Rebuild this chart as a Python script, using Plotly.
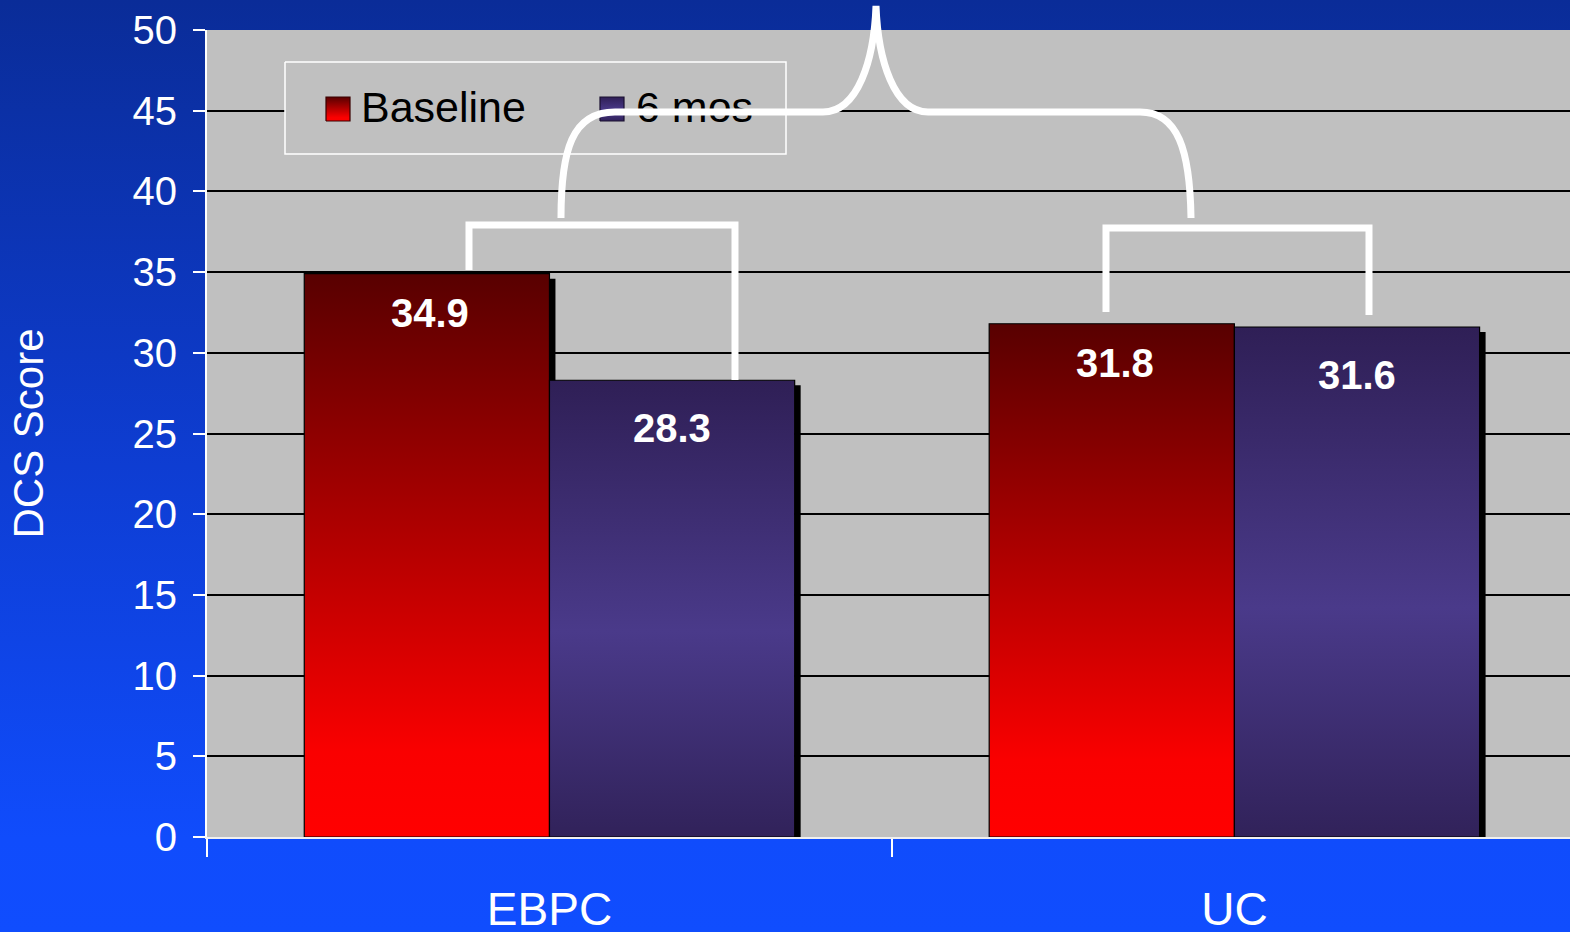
import base64
import plotly.graph_objects as go

# ---- data ----
groups = ["EBPC", "UC"]
series_names = ["Baseline", "6 mos"]
baseline = [34.9, 31.8]
six_mos = [28.3, 31.6]

FONT = "Liberation Sans, Arial, sans-serif"
W, H = 1570, 932
M_L, M_R, M_T, M_B = 207, 0, 30, 95
PW, PH = W - M_L - M_R, H - M_T - M_B

BAR_W = 0.358           # width of one bar in category units
SHADOW_DX = 6 / 685.0   # drop shadow offset, right
SHADOW_DY = 5 / 16.14   # drop shadow offset, down

RED_SCALE = [[0, "#FF0000"], [0.15, "#FA0000"], [1, "#580000"]]
PURPLE_SCALE = [[0, "#31225A"], [0.45, "#4A3A8A"], [1, "#2F1F56"]]


def rect(x0, x1, y0, y1):
    return [x0, x1, x1, x0, x0], [y0, y0, y1, y1, y0]


fig = go.Figure()

# drop shadows behind every bar
sx, sy = [], []
for gi, _ in enumerate(groups):
    for si, vals in enumerate([baseline, six_mos]):
        left = gi - BAR_W if si == 0 else gi
        right = left + BAR_W
        xs, ys = rect(right, right + SHADOW_DX, 0, vals[gi] - SHADOW_DY)
        sx += xs + [None]
        sy += ys + [None]
fig.add_trace(go.Scatter(x=sx, y=sy, fill="toself", fillcolor="black",
                         line=dict(color="black", width=0), mode="lines",
                         hoverinfo="skip", showlegend=False))

# gradient-filled bars
for si, (vals, scale) in enumerate([(baseline, RED_SCALE), (six_mos, PURPLE_SCALE)]):
    for gi, g in enumerate(groups):
        left = gi - BAR_W if si == 0 else gi
        xs, ys = rect(left, left + BAR_W, 0, vals[gi])
        fig.add_trace(go.Scatter(
            x=xs, y=ys, fill="toself", mode="lines",
            line=dict(color="black", width=1.2),
            fillgradient=dict(type="vertical", colorscale=scale,
                              start=0, stop=vals[gi]),
            name=series_names[si], hoverinfo="skip", showlegend=False))

        # value label inside the top of each bar
        fig.add_annotation(
            x=left + BAR_W / 2 + (0.004 if si == 0 else 0), y=vals[gi],
            xref="x", yref="y", text=f"<b>{vals[gi]:.1f}</b>",
            showarrow=False, yanchor="middle",
            yshift=-39 if si == 0 else -48,
            font=dict(family=FONT, size=40, color="white"))

# legend drawn on a pixel-scaled overlay axis
LEG_BOX = (285, 786, 62, 154)
xs, ys = rect(LEG_BOX[0], LEG_BOX[1], LEG_BOX[2], LEG_BOX[3])
fig.add_trace(go.Scatter(x=xs, y=ys, xaxis="x2", yaxis="y2", fill="toself",
                         fillcolor="#C0C0C0", mode="lines",
                         line=dict(color="white", width=1.5),
                         hoverinfo="skip", showlegend=False))
legend_items = [(326, 361, RED_SCALE, "#3A0000"), (600, 636, PURPLE_SCALE, "#1A1030")]
for (sx0, tx0, scale, edge), label in zip(legend_items, series_names):
    xs, ys = rect(sx0, sx0 + 24, 121, 97)
    fig.add_trace(go.Scatter(x=xs, y=ys, xaxis="x2", yaxis="y2", fill="toself",
                             mode="lines", line=dict(color=edge, width=1.2),
                             fillgradient=dict(type="vertical", colorscale=scale),
                             hoverinfo="skip", showlegend=False))
    fig.add_trace(go.Scatter(x=[tx0], y=[111], xaxis="x2", yaxis="y2",
                             mode="text", text=[label], textposition="middle right",
                             textfont=dict(family=FONT, size=43, color="black"),
                             hoverinfo="skip", showlegend=False))


# comparison brackets (pixel path -> paper coordinates)
def px(x, y):
    return f"{(x - M_L) / PW:.5f},{(H - M_B - y) / PH:.5f}"


bracket_paths = [
    f"M {px(469, 270)} L {px(469, 225)} L {px(735, 225)} L {px(735, 380)}",
    f"M {px(1106, 312)} L {px(1106, 228)} L {px(1369, 228)} L {px(1369, 315)}",
    (f"M {px(561, 218)} C {px(561, 150)} {px(572, 112)} {px(615, 112)} "
     f"L {px(823, 112)} C {px(858, 112)} {px(874, 60)} {px(876, 6)} "
     f"C {px(878, 60)} {px(894, 112)} {px(928, 112)} "
     f"L {px(1140, 112)} C {px(1178, 112)} {px(1190, 150)} {px(1191, 218)}"),
]
for p in bracket_paths:
    fig.add_shape(type="path", path=p, xref="paper", yref="paper",
                  line=dict(color="white", width=7), layer="above")

# gray plotting area over the gradient backdrop
fig.add_shape(type="rect", xref="paper", yref="paper", x0=0, x1=1, y0=0, y1=1,
              fillcolor="#C0C0C0", line=dict(width=0), layer="below")

# blue vertical gradient backdrop
svg = (f'<svg xmlns="http://www.w3.org/2000/svg" width="{W}" height="{H}">'
       '<defs><linearGradient id="g" x1="0" y1="0" x2="0" y2="1">'
       '<stop offset="0" stop-color="#0A2C98"/>'
       '<stop offset="0.5" stop-color="#0E3DD2"/>'
       '<stop offset="0.9" stop-color="#104CFC"/>'
       '<stop offset="1" stop-color="#104DFE"/>'
       '</linearGradient></defs>'
       f'<rect width="{W}" height="{H}" fill="url(#g)"/></svg>')
uri = "data:image/svg+xml;base64," + base64.b64encode(svg.encode()).decode()
fig.add_layout_image(source=uri, xref="paper", yref="paper",
                     x=-M_L / PW, y=1 + M_T / PH, sizex=W / PW, sizey=H / PH,
                     xanchor="left", yanchor="top", sizing="stretch", layer="below")

fig.update_layout(
    width=W, height=H,
    margin=dict(l=M_L, r=M_R, t=M_T, b=M_B, pad=0, autoexpand=False),
    paper_bgcolor="#0E3DD2", plot_bgcolor="#C0C0C0",
    showlegend=False,
    font=dict(family=FONT, color="white"),
    xaxis=dict(range=[-0.5, 1.49], tickvals=[0, 1], ticktext=groups,
               ticks="", ticklabelstandoff=31, automargin=False,
               tickfont=dict(family=FONT, size=46, color="white"),
               showgrid=False, zeroline=False, showline=True,
               linecolor="#F0F0F0", linewidth=2,
               minor=dict(tickvals=[-0.5, 0.5, 1.5], ticks="outside",
                          ticklen=18, tickcolor="white", tickwidth=2,
                          showgrid=False)),
    yaxis=dict(range=[0, 50], dtick=5, tick0=0, automargin=False,
               showgrid=True, gridcolor="black", gridwidth=1.5,
               zeroline=False, showline=True, linecolor="white", linewidth=2,
               ticks="outside", ticklen=12, tickcolor="white", tickwidth=2,
               ticklabelstandoff=8,
               tickfont=dict(family=FONT, size=40, color="white"),
               title=dict(text="DCS Score", standoff=76,
                          font=dict(family=FONT, size=42, color="white"))),
    xaxis2=dict(overlaying="x", range=[M_L, W], visible=False),
    yaxis2=dict(overlaying="y", range=[H - M_B, M_T], visible=False),
)

fig.write_html("out.html")
